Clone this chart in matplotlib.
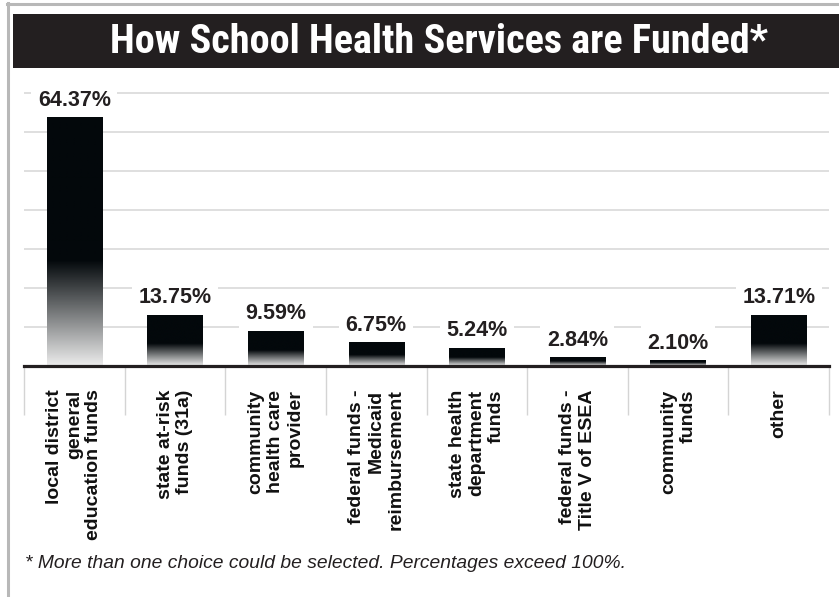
import numpy as np
import matplotlib.pyplot as plt
from matplotlib.colors import LinearSegmentedColormap
from matplotlib.patches import Rectangle
from matplotlib.lines import Line2D

sources = [
    "local district\ngeneral\neducation funds",
    "state at-risk\nfunds (31a)",
    "community\nhealth care\nprovider",
    "federal funds -\nMedicaid\nreimbursement",
    "state health\ndepartment\nfunds",
    "federal funds -\nTitle V of ESEA",
    "community\nfunds",
    "other",
]
percent = [64.37, 13.75, 9.59, 6.75, 5.24, 2.84, 2.10, 13.71]

title = "How School Health Services are Funded*"
note = "* More than one choice could be selected. Percentages exceed 100%."

W, H = 839, 597
INK = "#231f20"

plt.rcParams["font.family"] = ["Liberation Sans", "DejaVu Sans"]
fig = plt.figure(figsize=(W / 100, H / 100), dpi=100)

# grey frame on the left and top edge
fig.add_artist(Line2D([8 / W, 8 / W], [0, 1 - 3 / H], transform=fig.transFigure,
                      color="#b8b8b8", lw=2.2))
fig.add_artist(Line2D([7 / W, 1], [1 - 4 / H, 1 - 4 / H], transform=fig.transFigure,
                      color="#b8b8b8", lw=2.2))

# title banner
fig.add_artist(Rectangle((13 / W, 1 - 68 / H), (W - 13) / W, 54 / H,
                         transform=fig.transFigure, fc=INK, ec="none"))
fig.text(439 / W, 1 - 42 / H, title, color="white", fontsize=29, fontweight="bold",
         ha="center", va="center",
         family=["Roboto Condensed", "Open Sans Condensed", "Roboto", "DejaVu Sans"])

ax = fig.add_axes([24 / W, 1 - 366 / H, 805 / W, 281 / H])

bars = ax.bar(range(len(percent)), percent, width=0.55, color="none", edgecolor="none")

# black bars that fade to light grey towards the bottom
fade = LinearSegmentedColormap.from_list("fade", ["#ececec", "#03080b"])
t = np.linspace(0, 1, 256)
grad = np.clip(t / 0.42, 0, 1)[:, None]
for b in bars:
    x0, y0 = b.get_x(), b.get_y()
    ax.imshow(grad, extent=[x0, x0 + b.get_width(), y0, y0 + b.get_height()],
              origin="lower", cmap=fade, vmin=0, vmax=1, aspect="auto",
              interpolation="bilinear", zorder=2)

for b, v in zip(bars, percent):
    ax.annotate(f"{v:.2f}%", (b.get_x() + b.get_width() / 2, v), xytext=(0, 3),
                textcoords="offset points", ha="center", va="bottom", fontsize=15.5,
                fontweight="bold", color=INK, zorder=4,
                bbox=dict(boxstyle="square,pad=0.3", fc="white", ec="none"))

ax.set_xlim(-0.5, len(percent) - 0.5)
ax.set_ylim(0, 281 / 3.9)
ax.set_yticks(np.arange(10, 71, 10))
ax.tick_params(axis="y", length=0, labelleft=False)
ax.grid(axis="y", color="#d9d9d9", lw=1.2)
ax.set_axisbelow(True)

ax.set_xticks(range(len(sources)), sources, rotation=90, fontsize=14, fontweight="bold",
              ha="center", va="top", multialignment="right", color="#111111")
ax.tick_params(axis="x", length=0, pad=17)

# separators between the categories below the axis line
ax.vlines(np.arange(-0.5, len(percent)), 0, -0.175, transform=ax.get_xaxis_transform(),
          clip_on=False, color="#d4d4d4", lw=1)

for s in ("left", "right", "top"):
    ax.spines[s].set_visible(False)
ax.spines["bottom"].set(color=INK, linewidth=2.3, zorder=5)

fig.text(25 / W, 1 - 563 / H, note, style="italic", fontsize=13.9, ha="left",
         va="center", color=INK)

fig.savefig("out.png", dpi=100)
